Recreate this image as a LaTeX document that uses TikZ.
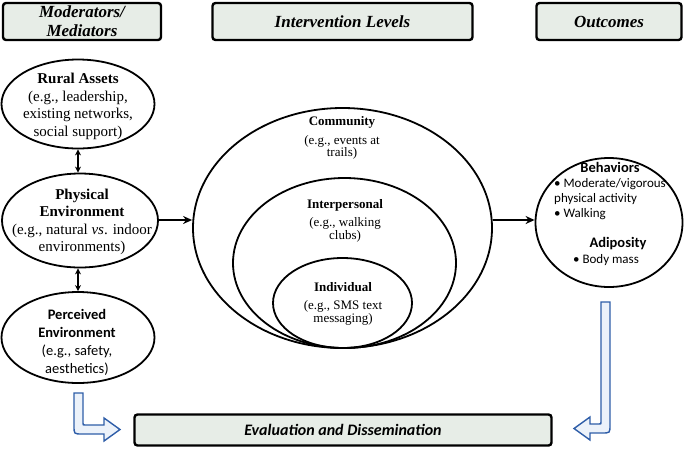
\documentclass[tikz,border=0pt]{standalone}
\usepackage{fontspec}
\setmainfont{Liberation Serif}
\newfontfamily\calfont{Carlito}
\usetikzlibrary{shapes.geometric,arrows.meta}
\definecolor{hdrfill}{RGB}{231,237,231}
\definecolor{bluearrow}{RGB}{46,93,168}
\definecolor{bluefill}{RGB}{236,242,250}
\tikzset{
  hdr/.style={draw=black, line width=2.4pt, rounded corners=3pt, fill=hdrfill, inner sep=0pt},
  ell/.style={draw=black, line width=1.8pt, ellipse, inner sep=0pt},
  txt/.style={align=center, inner sep=0pt},
  conn/.style={line width=2.2pt, -{Stealth[length=9pt,width=8pt]}},
  dconn/.style={line width=1.9pt, {Stealth[length=6pt,width=6pt]}-{Stealth[length=6pt,width=6pt]}},
  hollow/.style={draw=bluearrow, line width=1.4pt, fill=bluefill, line join=miter}
}
\begin{document}
\begin{tikzpicture}[x=1pt,y=-1pt]
\useasboundingbox (0,0) rectangle (685,451);
% header boxes
\node[hdr, minimum width=158pt, minimum height=37pt] (hmod) at (82,21.5) {};
\node[txt, font=\fontsize{17}{19}\selectfont\bfseries\itshape] (hmodt) at (hmod.center) {Moderators/\\Mediators};
\node[hdr, minimum width=260pt, minimum height=37pt] (hint) at (342.5,21.5) {};
\node[txt, font=\fontsize{17}{19}\selectfont\bfseries\itshape] (hintt) at (hint.center) {Intervention Levels};
\node[hdr, minimum width=145pt, minimum height=37pt] (hout) at (609,21.5) {};
\node[txt, font=\fontsize{17}{19}\selectfont\bfseries\itshape] (houtt) at (hout.center) {Outcomes};
\node[hdr, minimum width=417pt, minimum height=31pt] (heval) at (343,430) {};
\node[txt, font=\calfont\fontsize{16}{18}\selectfont\bfseries\itshape] (hevalt) at (heval.center) {Evaluation and Dissemination};

% left ellipses
\node[ell, minimum width=153pt, minimum height=89pt] (rural) at (78,104) {};
\node[txt, font=\fontsize{15}{17.5}\selectfont] (ruralt) at (78,106.5) {\textbf{Rural Assets}\\(e.g., leadership,\\existing networks,\\social support)};
\node[ell, minimum width=156pt, minimum height=94pt] (phys) at (80,220.5) {};
\node[txt, font=\fontsize{15}{17.5}\selectfont] (physt) at (82,222) {\textbf{Physical}\\\textbf{Environment}\\(e.g., natural \textit{vs}. indoor\\environments)};
\node[ell, minimum width=153pt, minimum height=91pt] (perc) at (78,337.5) {};
\node[txt, font=\calfont\fontsize{14.5}{18}\selectfont] (perct) at (77,342) {\textbf{Perceived}\\\textbf{Environment}\\(e.g., safety,\\aesthetics)};

\draw[dconn] (rural.south) -- (rural.south |- phys.north);
\draw[dconn] (phys.south -| rural.south) -- (perc.north -| rural.south);

% intervention ellipses
\node[ell, minimum width=299pt, minimum height=240pt] (comm) at (342.5,228) {};
\node[ell, minimum width=223pt, minimum height=170pt] (inter) at (344.5,263) {};
\node[ell, minimum width=139pt, minimum height=90pt] (indiv) at (342.5,303) {};
\node[txt, font=\fontsize{13}{12.5}\selectfont\bfseries] (commt) at (342,122) {Community};
\node[txt, font=\fontsize{13}{12.5}\selectfont] (commd) at (342,147.5) {(e.g., events at\\trails)};
\node[txt, font=\fontsize{13}{12.5}\selectfont\bfseries] (intert) at (345,205) {Interpersonal};
\node[txt, font=\fontsize{13}{12.5}\selectfont] (interd) at (345,230) {(e.g., walking\\clubs)};
\node[txt, font=\fontsize{13}{12.5}\selectfont\bfseries] (indivt) at (343,287) {Individual};
\node[txt, font=\fontsize{13}{12.5}\selectfont] (indivd) at (343,313) {(e.g., SMS text\\messaging)};

% outcomes
\node[ell, minimum width=147pt, minimum height=129pt] (outc) at (609,222.5) {};
\node[txt, font=\calfont\fontsize{14.5}{16}\selectfont\bfseries] (behav) at (610,167) {Behaviors};
\node[txt, anchor=west, align=left, font=\calfont\fontsize{13}{15}\selectfont] (behavl) at (554,199) {\textbullet{} Moderate/vigorous\\physical activity\\\textbullet{} Walking};
\node[txt, font=\calfont\fontsize{14.5}{16}\selectfont\bfseries] (adip) at (618,244) {Adiposity};
\node[txt, font=\calfont\fontsize{13}{15}\selectfont] (adipl) at (606,260) {\textbullet{} Body mass};

% connectors
\draw[conn] (phys.east |- 0,220) -- (comm.west |- 0,220);
\draw[conn] (comm.east |- 0,220) -- (outc.west |- 0,220);

% hollow blue arrows
\draw[hollow] (74,393) -- (74,426) .. controls (74,434) .. (82,434) -- (104,434) -- (104,441) -- (120,429.5) -- (104,418) -- (104,425) -- (85,425) .. controls (83,425) .. (83,423) -- (83,393) -- cycle;
\draw[hollow] (610,302) -- (610,425) .. controls (610,433) .. (602,433) -- (590,433) -- (590,440) -- (574,428.5) -- (590,417) -- (590,424) -- (599,424) .. controls (601,424) .. (601,422) -- (601,302) -- cycle;
\end{tikzpicture}
\end{document}
